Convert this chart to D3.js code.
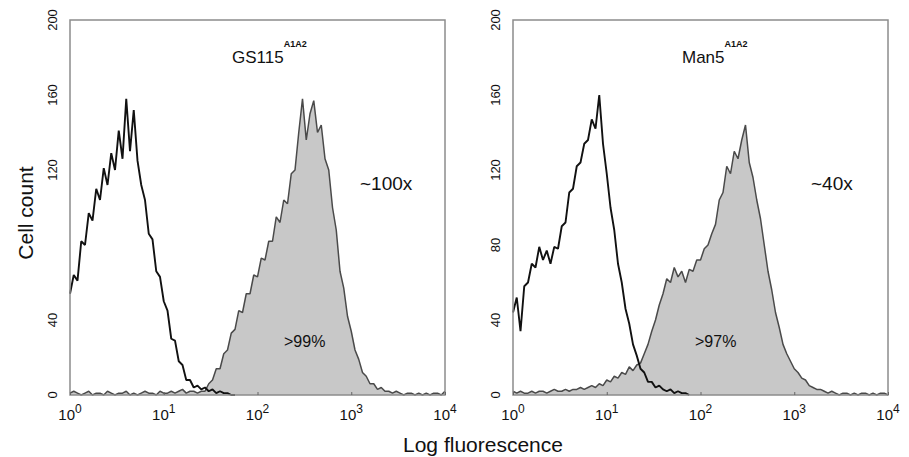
<!DOCTYPE html>
<html>
<head>
<meta charset="utf-8">
<script src="https://cdn.jsdelivr.net/npm/d3@7"></script>
<style>
  body { margin: 0; background: #fff; }
  text { font-family: "Liberation Sans", Arial, sans-serif; fill: #111; }
</style>
</head>
<body>
<svg width="909" height="457"></svg>
<script>
// channel positions in log10 units (0 .. 4 decades)
var channels = d3.range(0, 4.0001, 0.04);
var decades = [0, 1, 2, 3, 4];
var yTicksGS115 = [0, 40, 120, 160, 200];
var yTicksMan5 = [0, 40, 80, 120, 160, 200];

// cell counts, one per channel (controls stop where they sit on 0)
var gs115Control = [54, 64, 61, 82, 80, 97, 93, 110, 104, 121,
  112, 129, 120, 141, 126, 158, 130, 152, 125, 112,
  104, 86, 83, 66, 63, 50, 45, 30, 29, 18,
  16, 8, 8, 4, 5, 3, 4, 2, 3, 1,
  2, 1, 1, 0, 0];
var gs115Stained = [1, 2, 1, 0, 1, 2, 0, 1, 1, 0, 2, 1, 0, 1, 1, 2, 0, 1, 0, 1,
  2, 1, 1, 0, 2, 1, 1, 2, 1, 2, 3, 1, 2, 2, 1, 2,
  2, 6, 8, 14, 14, 22, 24, 33, 35, 45, 44, 54, 54, 64, 63, 73, 72, 82, 82, 95,
  92, 104, 102, 118, 120, 140, 158, 136, 150, 157, 140, 144, 126, 120, 100,
  88, 66, 57, 42, 34, 24, 19, 12, 10, 6, 6, 3, 4, 2, 2, 1,
  2, 1, 0, 1, 1, 0, 1, 0, 1, 0, 1, 1, 0, 2];
var man5Control = [44, 52, 34, 58, 60, 70, 68, 79, 72, 77,
  70, 79, 78, 90, 92, 108, 110, 122, 124, 134,
  136, 147, 142, 160, 134, 118, 100, 88, 70, 60,
  46, 38, 27, 21, 14, 12, 7, 7, 4, 5,
  3, 2, 3, 1, 2, 1, 1, 0];
var man5Stained = [2, 1, 2, 1, 1, 2, 1, 2, 2, 1, 2, 3, 2, 2, 3, 2, 3, 3, 4, 3,
  4, 5, 4, 6, 5, 8, 7, 10, 9, 12,
  11, 15, 13, 16, 17, 22, 27, 34, 40, 48,
  54, 62, 60, 68, 63, 66, 60, 67, 66, 72,
  72, 78, 80, 86, 91, 104, 108, 122, 118, 130,
  126, 136, 144, 124, 116, 104, 94, 80, 66, 56,
  44, 36, 27, 22, 18, 14, 12, 9, 8, 5,
  4, 3, 3, 2, 1, 2,
  1, 0, 1, 1, 0, 1, 0, 1, 1, 0, 1, 0, 1, 1, 0];

var svg = d3.select("svg");
var size = 375, marginTop = 20;

var x = d3.scaleLog().domain([1, 1e4]).range([0, size]);
var y = d3.scaleLinear().domain([0, 200]).range([size, 0]);

var panels = [
  { left: 70, title: "GS115", sup: "A1A2", titleX: 162, fold: "~100x", foldX: 290, pct: ">99%", pctX: 214,
    control: gs115Control, stained: gs115Stained, yTicks: yTicksGS115 },
  { left: 513, title: "Man5", sup: "A1A2", titleX: 169, fold: "~40x", foldX: 298, pct: ">97%", pctX: 182,
    control: man5Control, stained: man5Stained, yTicks: yTicksMan5 }
];

function pts(values) {
  return values.map(function(v, i) { return [Math.pow(10, channels[i]), v]; });
}

var area = d3.area().x(d => x(d[0])).y0(size).y1(d => y(d[1]));
var line = d3.line().x(d => x(d[0])).y(d => y(d[1]));

panels.forEach(function(p) {
  var g = svg.append("g").attr("transform", "translate(" + p.left + "," + marginTop + ")");

  g.append("rect").attr("width", size).attr("height", size).attr("fill", "#fff");

  // stained sample: filled histogram
  g.append("path").datum(pts(p.stained))
    .attr("d", area).attr("fill", "#c8c8c8");
  g.append("path").datum(pts(p.stained))
    .attr("d", line).attr("fill", "none").attr("stroke", "#4a4a4a").attr("stroke-width", 1.5)
    .attr("stroke-linejoin", "bevel");

  // control: open histogram
  g.append("path").datum(pts(p.control))
    .attr("d", line).attr("fill", "none").attr("stroke", "#111").attr("stroke-width", 1.9)
    .attr("stroke-linejoin", "bevel");

  // frame
  g.append("rect").attr("width", size).attr("height", size)
    .attr("fill", "none").attr("stroke", "#8c8c8c").attr("stroke-width", 1.5);

  // small inward ticks on the x axis
  var ax = g.append("g").attr("transform", "translate(0," + size + ")")
    .call(d3.axisBottom(x).tickValues(decades.map(d => Math.pow(10, d))).tickSize(-3).tickFormat(""));
  ax.select(".domain").remove();
  ax.selectAll("line").attr("stroke", "#666");

  // x tick labels 10^n
  var xl = g.selectAll(".xl").data(decades).enter().append("text")
    .attr("x", d => x(Math.pow(10, d)))
    .attr("y", size + 25)
    .attr("text-anchor", "middle")
    .style("font-size", "15px");
  xl.append("tspan").text("10");
  xl.append("tspan").attr("dy", -7).style("font-size", "12px").text(d => d);

  // y tick labels, rotated
  g.selectAll(".yl").data(p.yTicks).enter().append("text")
    .attr("transform", d => "translate(-13," + y(d) + ") rotate(-90)")
    .attr("text-anchor", "middle")
    .style("font-size", "13px")
    .text(d => d);

  // title with superscript
  var t = g.append("text").attr("x", p.titleX).attr("y", 43).style("font-size", "17px");
  t.append("tspan").text(p.title);
  t.append("tspan").attr("dy", -16).style("font-size", "9px").style("font-weight", "bold").text(p.sup);

  g.append("text").attr("x", p.foldX).attr("y", 170).style("font-size", "19px").text(p.fold);
  g.append("text").attr("x", p.pctX).attr("y", 327).style("font-size", "16px").text(p.pct);
});

svg.append("text")
  .attr("transform", "translate(33,213) rotate(-90)")
  .attr("text-anchor", "middle")
  .style("font-size", "21px")
  .text("Cell count");

svg.append("text")
  .attr("x", 483).attr("y", 452)
  .attr("text-anchor", "middle")
  .style("font-size", "21px")
  .text("Log fluorescence");
</script>
</body>
</html>
